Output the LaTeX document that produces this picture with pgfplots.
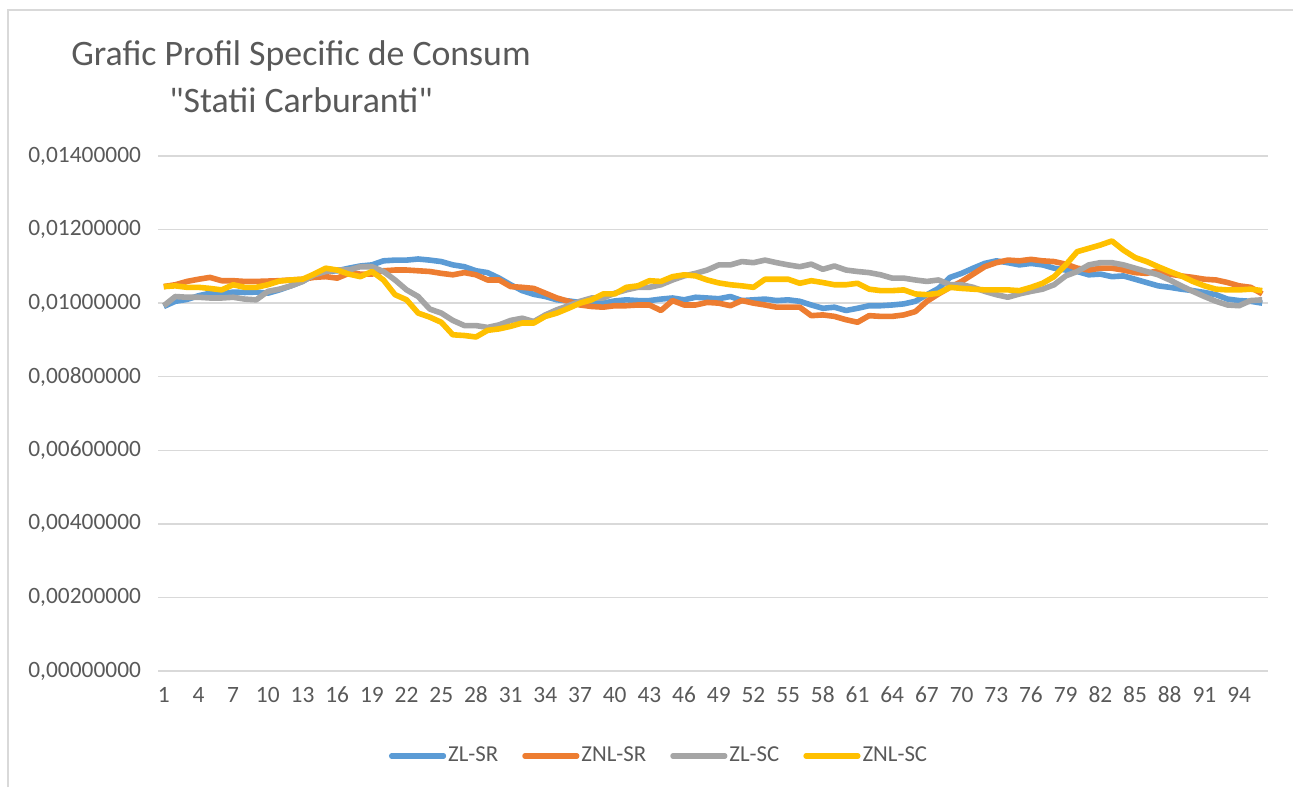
\documentclass[border=0pt]{standalone}
\usepackage{fontspec}
\setmainfont{Carlito}[Ligatures=TeXOff]
\usepackage{pgfplots}
\usepackage{pgfplotstable}
\pgfplotsset{compat=1.18}
\definecolor{txt}{HTML}{595959}
\definecolor{gridc}{HTML}{D9D9D9}
\definecolor{cblue}{HTML}{5B9BD5}
\definecolor{corange}{HTML}{ED7D31}
\definecolor{cgray}{HTML}{A5A5A5}
\definecolor{cyellow}{HTML}{FFC000}
\pgfplotstableread{
x zlsr znlsr zlsc znlsc
1 0.00991 0.01045 0.00993 0.01045
2 0.01005 0.01050 0.01018 0.01047
3 0.01010 0.01059 0.01016 0.01043
4 0.01020 0.01065 0.01016 0.01043
5 0.01027 0.01070 0.01014 0.01040
6 0.01025 0.01061 0.01014 0.01036
7 0.01030 0.01061 0.01016 0.01050
8 0.01029 0.01059 0.01011 0.01043
9 0.01030 0.01059 0.01009 0.01043
10 0.01027 0.01060 0.01032 0.01050
11 0.01036 0.01061 0.01038 0.01060
12 0.01047 0.01063 0.01047 0.01063
13 0.01059 0.01065 0.01059 0.01065
14 0.01077 0.01070 0.01077 0.01079
15 0.01086 0.01072 0.01086 0.01095
16 0.01088 0.01068 0.01090 0.01090
17 0.01095 0.01081 0.01090 0.01079
18 0.01101 0.01079 0.01099 0.01072
19 0.01104 0.01079 0.01099 0.01086
20 0.01115 0.01088 0.01086 0.01063
21 0.01117 0.01090 0.01063 0.01023
22 0.01117 0.01090 0.01036 0.01009
23 0.01120 0.01088 0.01018 0.00973
24 0.01117 0.01086 0.00984 0.00962
25 0.01113 0.01081 0.00973 0.00948
26 0.01104 0.01077 0.00953 0.00914
27 0.01099 0.01083 0.00939 0.00912
28 0.01088 0.01077 0.00939 0.00908
29 0.01083 0.01063 0.00934 0.00926
30 0.01068 0.01063 0.00941 0.00930
31 0.01050 0.01045 0.00953 0.00937
32 0.01034 0.01043 0.00959 0.00946
33 0.01024 0.01040 0.00950 0.00946
34 0.01018 0.01027 0.00968 0.00964
35 0.01009 0.01014 0.00982 0.00973
36 0.01006 0.01005 0.00993 0.00986
37 0.01002 0.00995 0.01005 0.01000
38 0.00998 0.00991 0.01014 0.01009
39 0.01000 0.00989 0.01014 0.01025
40 0.01006 0.00993 0.01027 0.01025
41 0.01009 0.00993 0.01036 0.01043
42 0.01007 0.00995 0.01043 0.01047
43 0.01007 0.00995 0.01043 0.01061
44 0.01011 0.00980 0.01050 0.01059
45 0.01014 0.01007 0.01063 0.01072
46 0.01009 0.00995 0.01074 0.01077
47 0.01016 0.00995 0.01081 0.01074
48 0.01014 0.01002 0.01090 0.01063
49 0.01012 0.01000 0.01104 0.01055
50 0.01018 0.00993 0.01104 0.01050
51 0.01007 0.01007 0.01113 0.01047
52 0.01009 0.01000 0.01110 0.01043
53 0.01011 0.00995 0.01117 0.01065
54 0.01007 0.00989 0.01110 0.01065
55 0.01009 0.00989 0.01104 0.01065
56 0.01005 0.00989 0.01099 0.01054
57 0.00995 0.00966 0.01106 0.01061
58 0.00986 0.00968 0.01092 0.01056
59 0.00989 0.00964 0.01101 0.01050
60 0.00980 0.00955 0.01090 0.01050
61 0.00986 0.00948 0.01086 0.01054
62 0.00993 0.00966 0.01083 0.01038
63 0.00993 0.00964 0.01077 0.01034
64 0.00995 0.00964 0.01068 0.01034
65 0.00998 0.00968 0.01068 0.01036
66 0.01005 0.00977 0.01063 0.01025
67 0.01023 0.01005 0.01059 0.01023
68 0.01040 0.01025 0.01063 0.01027
69 0.01070 0.01043 0.01050 0.01043
70 0.01081 0.01059 0.01050 0.01040
71 0.01095 0.01079 0.01043 0.01038
72 0.01108 0.01099 0.01032 0.01036
73 0.01115 0.01110 0.01023 0.01036
74 0.01110 0.01117 0.01016 0.01036
75 0.01104 0.01115 0.01025 0.01034
76 0.01108 0.01119 0.01032 0.01043
77 0.01104 0.01115 0.01038 0.01054
78 0.01095 0.01113 0.01050 0.01072
79 0.01090 0.01106 0.01074 0.01104
80 0.01086 0.01095 0.01086 0.01140
81 0.01077 0.01090 0.01104 0.01149
82 0.01079 0.01095 0.01110 0.01158
83 0.01072 0.01095 0.01110 0.01169
84 0.01074 0.01090 0.01104 0.01144
85 0.01065 0.01083 0.01095 0.01124
86 0.01056 0.01081 0.01086 0.01113
87 0.01047 0.01088 0.01077 0.01099
88 0.01043 0.01079 0.01063 0.01086
89 0.01038 0.01074 0.01047 0.01074
90 0.01034 0.01070 0.01032 0.01059
91 0.01029 0.01065 0.01018 0.01047
92 0.01023 0.01063 0.01005 0.01038
93 0.01011 0.01056 0.00995 0.01036
94 0.01007 0.01047 0.00993 0.01036
95 0.01005 0.01043 0.01007 0.01038
96 0.01000 0.01025 0.01009 0.01034
}\datatable
\begin{document}
\begin{tikzpicture}
\useasboundingbox (0,0) rectangle (646.5pt,393.5pt);
\draw[gridc, line width=0.75pt] (4pt,0) -- (4pt,388.5pt) -- (646.5pt,388.5pt);
\node[align=center, text=txt, font=\fontsize{17.9}{23.5}\selectfont] at (150.5pt,355.25pt)
  {Grafic Profil Specific de Consum\\"Statii Carburanti"};
\begin{axis}[
  at={(79pt,58pt)}, anchor=south west,
  scale only axis, width=555pt, height=257.5pt,
  xmin=0.5, xmax=96.5, ymin=0, ymax=0.014,
  xtick={1,4,...,94},
  ytick={0,0.002,0.004,0.006,0.008,0.010,0.012,0.014},
  xmajorgrids=false,
  ymajorgrids=true, 
  y grid style={color=gridc, line width=0.75pt},
  axis line style={draw=none},
  major tick length=0pt,
  tick label style={text=txt, font=\fontsize{11.7}{13}\selectfont},
  /pgf/number format/assume math mode=true,
  y tick label style={/pgf/number format/fixed, /pgf/number format/fixed zerofill,
    /pgf/number format/precision=8, /pgf/number format/use comma, xshift=-5pt},
  x tick label style={yshift=-4pt, text height=8pt, text depth=0pt},
  scaled y ticks=false,
  legend columns=4,
  legend style={at={(0.4514,-0.165)}, anchor=center, draw=none, fill=none,
    font=\fontsize{11.4}{13}\selectfont, text=txt,
    /tikz/every even column/.append style={column sep=11pt},
    nodes={inner xsep=1pt}},
  legend image code/.code={\draw[#1, line width=2.6pt, line cap=round] (0pt,0pt) -- (26pt,0pt);},
  every axis plot/.append style={line width=2.8pt, line join=round, mark=none},
]
\addplot[cblue] table[x=x, y=zlsr] {\datatable};
\addlegendentry{ZL-SR}
\addplot[corange] table[x=x, y=znlsr] {\datatable};
\addlegendentry{ZNL-SR}
\addplot[cgray] table[x=x, y=zlsc] {\datatable};
\addlegendentry{ZL-SC}
\addplot[cyellow] table[x=x, y=znlsc] {\datatable};
\addlegendentry{ZNL-SC}
\end{axis}
\end{tikzpicture}
\end{document}
